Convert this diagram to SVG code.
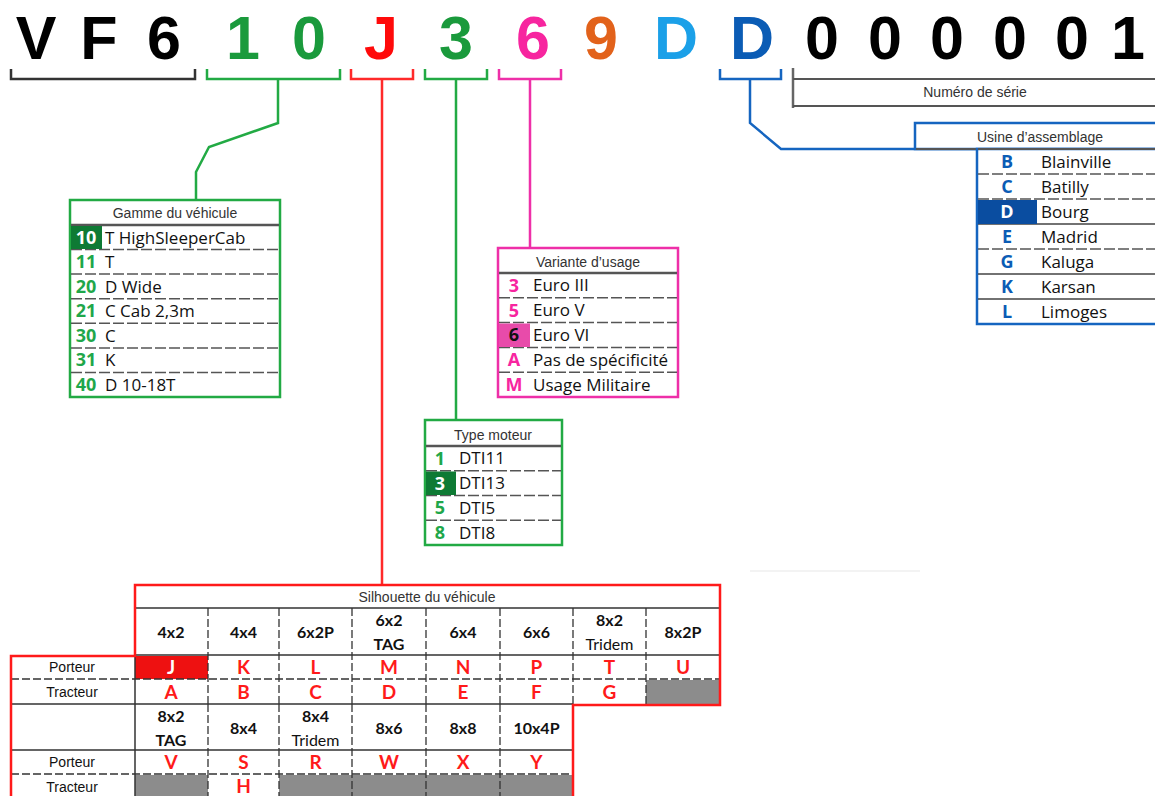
<svg xmlns="http://www.w3.org/2000/svg" width="1155" height="796" viewBox="0 0 1155 796">
<style>
.big{font-family:"Liberation Sans",Arial,sans-serif;font-weight:700;font-size:61px;text-anchor:middle}
.hd{font-family:"Liberation Sans",Arial,sans-serif;font-size:14px;fill:#333;text-anchor:middle}
.num{font-family:"Open Sans",Lato,sans-serif;font-weight:700;font-size:18px;text-anchor:middle}
.desc{font-family:"Open Sans",Lato,sans-serif;font-size:17px;fill:#111}
.sep{stroke:#555;stroke-width:1.5;stroke-dasharray:11 3;fill:none}
.hsep{stroke:#555;stroke-width:2.5;fill:none}
.th{font-family:Lato,"Liberation Sans",sans-serif;font-weight:700;font-size:16px;fill:#111;text-anchor:middle}
.thr{font-family:Lato,"Liberation Sans",sans-serif;font-size:16px;fill:#111;text-anchor:middle}
.rl{font-family:Lato,"Liberation Sans",sans-serif;font-weight:700;font-size:19px;fill:#ff1a1a;text-anchor:middle}
.lab{font-family:"Liberation Sans",Arial,sans-serif;font-size:14px;fill:#111;text-anchor:middle}
.gsolid{stroke:#333;stroke-width:1.5;fill:none}
.gdash{stroke:#333;stroke-width:1.3;stroke-dasharray:8 3;fill:none}
.grey{fill:#8c8c8c}
</style>

<g id="vin">
<text class="big" x="36" y="59" fill="#000">V</text>
<text class="big" x="99" y="59" fill="#000">F</text>
<text class="big" x="164" y="59" fill="#000">6</text>
<text class="big" x="243" y="59" fill="#1a9a3c">1</text>
<text class="big" x="309" y="59" fill="#1a9a3c">0</text>
<text class="big" x="381" y="59" fill="#ff0a0a">J</text>
<text class="big" x="456" y="59" fill="#1a9a3c">3</text>
<text class="big" x="533" y="59" fill="#f7259f">6</text>
<text class="big" x="601" y="59" fill="#e2621b">9</text>
<text class="big" x="676" y="59" fill="#1ba0e8">D</text>
<text class="big" x="752" y="59" fill="#0b5cb5">D</text>
<text class="big" x="822" y="59" fill="#000">0</text>
<text class="big" x="885" y="59" fill="#000">0</text>
<text class="big" x="947" y="59" fill="#000">0</text>
<text class="big" x="1010" y="59" fill="#000">0</text>
<text class="big" x="1072" y="59" fill="#000">0</text>
<text class="big" x="1128" y="59" fill="#000">1</text>
</g>

<g id="connectors" fill="none" stroke-width="2.5">
<path d="M11 69V79H195V69" stroke="#333"/>
<path d="M207 69V79H340V69M278 79V123L209 147L196 172V200" stroke="#22aa44"/>
<path d="M351 69V79H413V69M382 79V585" stroke="#ff2a2a"/>
<path d="M425 69V79H487V69M456 79V420" stroke="#22aa44"/>
<path d="M499 69V79H561V69M530 79V248" stroke="#ee2fa8"/>
<path d="M720 69V79H781V69M750 79V123L781 149H977" stroke="#1565c0"/>
</g>

<g id="serie">
<path d="M793 68V108" stroke="#666" stroke-width="2.5" fill="none"/>
<path d="M793 79H1155M793 106H1155" stroke="#555" stroke-width="2" fill="none"/>
<text class="hd" x="975" y="97">Numéro de série</text>
</g>

<g id="gamme">
<rect x="70" y="200" width="210" height="197" fill="#fff" stroke="#22aa44" stroke-width="2.5"/>
<text class="hd" x="175" y="218" font-size="15">Gamme du véhicule</text>
<path class="hsep" d="M71 225H279"/>
<path class="sep" d="M71 249.6H279M71 274.1H279M71 298.7H279M71 323.3H279M71 347.9H279M71 372.4H279"/>
<rect x="71" y="226" width="31" height="23" fill="#0e7a34"/>
<g class="num" font-size="18.5">
<text x="86" y="244" fill="#fff">10</text>
<text x="86" y="268" fill="#1fa74a">11</text>
<text x="86" y="293" fill="#1fa74a">20</text>
<text x="86" y="317" fill="#1fa74a">21</text>
<text x="86" y="342" fill="#1fa74a">30</text>
<text x="86" y="366" fill="#1fa74a">31</text>
<text x="86" y="391" fill="#1fa74a">40</text>
</g>
<g class="desc" font-size="18.7">
<text x="105" y="244">T HighSleeperCab</text>
<text x="105" y="268">T</text>
<text x="105" y="293">D Wide</text>
<text x="105" y="317">C Cab 2,3m</text>
<text x="105" y="342">C</text>
<text x="105" y="366">K</text>
<text x="105" y="391">D 10-18T</text>
</g>
</g>

<g id="variante">
<rect x="498" y="248" width="180" height="149" fill="#fff" stroke="#ee2fa8" stroke-width="2.5"/>
<text class="hd" x="588" y="267">Variante d’usage</text>
<path class="hsep" d="M499 273H677"/>
<path class="sep" d="M499 297.8H677M499 322.6H677M499 347.4H677M499 372.2H677"/>
<rect x="499" y="323.5" width="31" height="23.5" fill="#e84baa"/>
<text class="num" x="514" y="292" fill="#f7259f">3</text>
<text class="num" x="514" y="317" fill="#f7259f">5</text>
<text class="num" x="514" y="341" fill="#111">6</text>
<text class="num" x="514" y="366" fill="#f7259f">A</text>
<text class="num" x="514" y="391" fill="#f7259f">M</text>
<text class="desc" x="533" y="291">Euro III</text>
<text class="desc" x="533" y="316">Euro V</text>
<text class="desc" x="533" y="341">Euro VI</text>
<text class="desc" x="533" y="366">Pas de spécificité</text>
<text class="desc" x="533" y="391">Usage Militaire</text>
</g>

<g id="moteur">
<rect x="425" y="420" width="137" height="125" fill="#fff" stroke="#22aa44" stroke-width="2.5"/>
<text class="hd" x="493" y="440">Type moteur</text>
<path class="hsep" d="M426 446H561"/>
<path class="sep" d="M426 470.8H561M426 495.5H561M426 520.3H561"/>
<rect x="426" y="471.5" width="30" height="23.5" fill="#0e7a34"/>
<text class="num" x="440" y="465" fill="#1fa74a">1</text>
<text class="num" x="440" y="490" fill="#fff">3</text>
<text class="num" x="440" y="514" fill="#1fa74a">5</text>
<text class="num" x="440" y="539" fill="#1fa74a">8</text>
<text class="desc" x="459" y="464">DTI11</text>
<text class="desc" x="459" y="489">DTI13</text>
<text class="desc" x="459" y="514">DTI5</text>
<text class="desc" x="459" y="539">DTI8</text>
</g>

<g id="usine">
<rect x="915" y="123" width="250" height="26" fill="#fff" stroke="#1565c0" stroke-width="2.5"/>
<path d="M916 149H1155" stroke="#555" stroke-width="2" fill="none"/>
<text class="hd" x="1040" y="142">Usine d’assemblage</text>
<rect x="977" y="149" width="190" height="175" fill="#fff" stroke="#1565c0" stroke-width="2.5"/>
<path d="M978 149H1155" stroke="#555" stroke-width="2" fill="none"/>
<path class="sep" d="M978 174H1155M978 199H1155M978 249H1155"/>
<path d="M978 224H1155M978 274H1155M978 299H1155" stroke="#444" stroke-width="1.5" fill="none"/>
<rect x="978" y="200" width="59" height="24" fill="#0a4da0"/>
<g class="num" font-size="17.5">
<text x="1007" y="168" fill="#0b5cb5">B</text>
<text x="1007" y="193" fill="#0b5cb5">C</text>
<text x="1007" y="218" fill="#fff">D</text>
<text x="1007" y="243" fill="#0b5cb5">E</text>
<text x="1007" y="268" fill="#0b5cb5">G</text>
<text x="1007" y="293" fill="#0b5cb5">K</text>
<text x="1007" y="318" fill="#0b5cb5">L</text>
</g>
<text class="desc" x="1041" y="168">Blainville</text>
<text class="desc" x="1041" y="193">Batilly</text>
<text class="desc" x="1041" y="218">Bourg</text>
<text class="desc" x="1041" y="243">Madrid</text>
<text class="desc" x="1041" y="268">Kaluga</text>
<text class="desc" x="1041" y="293">Karsan</text>
<text class="desc" x="1041" y="318">Limoges</text>
</g>

<path d="M750 571H920" stroke="#efefef" stroke-width="1.5" fill="none"/>

<g id="silhouette">
<path d="M11 796V656H135V585H720V705H573V796Z" fill="#fff"/>
<rect x="646" y="680" width="74" height="24" class="grey"/>
<rect x="135" y="775" width="73" height="21" class="grey"/>
<rect x="279" y="775" width="294" height="21" class="grey"/>
<rect x="135" y="656" width="73" height="23" fill="#ee1111"/>
<path class="gsolid" d="M135 608H720M135 655H720M11 704H573M11 750H573M135 655V796"/>
<path class="gdash" d="M11 679H720M11 774H573M208 608V704M279 608V704M352 608V704M426 608V704M500 608V704M573 608V704M646 608V704M208 704V796M279 704V796M352 704V796M426 704V796M500 704V796"/>
<path d="M11 796V656H135V585H720V705H573V796" fill="none" stroke="#ff1a1a" stroke-width="2.5"/>
<text class="hd" x="427" y="602">Silhouette du véhicule</text>
<text class="th" x="171" y="638">4x2</text>
<text class="th" x="243.5" y="638">4x4</text>
<text class="th" x="315.5" y="638">6x2P</text>
<text class="th" x="389" y="626">6x2</text>
<text class="th" x="389" y="650">TAG</text>
<text class="th" x="463" y="638">6x4</text>
<text class="th" x="536.5" y="638">6x6</text>
<text class="th" x="609.5" y="626">8x2</text>
<text class="thr" x="609.5" y="650">Tridem</text>
<text class="th" x="683" y="638">8x2P</text>
<text class="lab" x="72" y="672">Porteur</text>
<text class="lab" x="72" y="697">Tracteur</text>
<text class="rl" x="171" y="674" style="fill:#fff">J</text>
<text class="rl" x="243.5" y="674">K</text>
<text class="rl" x="315.5" y="674">L</text>
<text class="rl" x="389" y="674">M</text>
<text class="rl" x="463" y="674">N</text>
<text class="rl" x="536.5" y="674">P</text>
<text class="rl" x="609.5" y="674">T</text>
<text class="rl" x="683" y="674">U</text>
<text class="rl" x="171" y="699">A</text>
<text class="rl" x="243.5" y="699">B</text>
<text class="rl" x="315.5" y="699">C</text>
<text class="rl" x="389" y="699">D</text>
<text class="rl" x="463" y="699">E</text>
<text class="rl" x="536.5" y="699">F</text>
<text class="rl" x="609.5" y="699">G</text>
<text class="th" x="171" y="722">8x2</text>
<text class="th" x="171" y="746">TAG</text>
<text class="th" x="243.5" y="734">8x4</text>
<text class="th" x="315.5" y="722">8x4</text>
<text class="thr" x="315.5" y="746">Tridem</text>
<text class="th" x="389" y="734">8x6</text>
<text class="th" x="463" y="734">8x8</text>
<text class="th" x="536.5" y="734">10x4P</text>
<text class="lab" x="72" y="767">Porteur</text>
<text class="lab" x="72" y="792">Tracteur</text>
<text class="rl" x="171" y="769">V</text>
<text class="rl" x="243.5" y="769">S</text>
<text class="rl" x="315.5" y="769">R</text>
<text class="rl" x="389" y="769">W</text>
<text class="rl" x="463" y="769">X</text>
<text class="rl" x="536.5" y="769">Y</text>
<text class="rl" x="243.5" y="793">H</text>
</g>
</svg>
